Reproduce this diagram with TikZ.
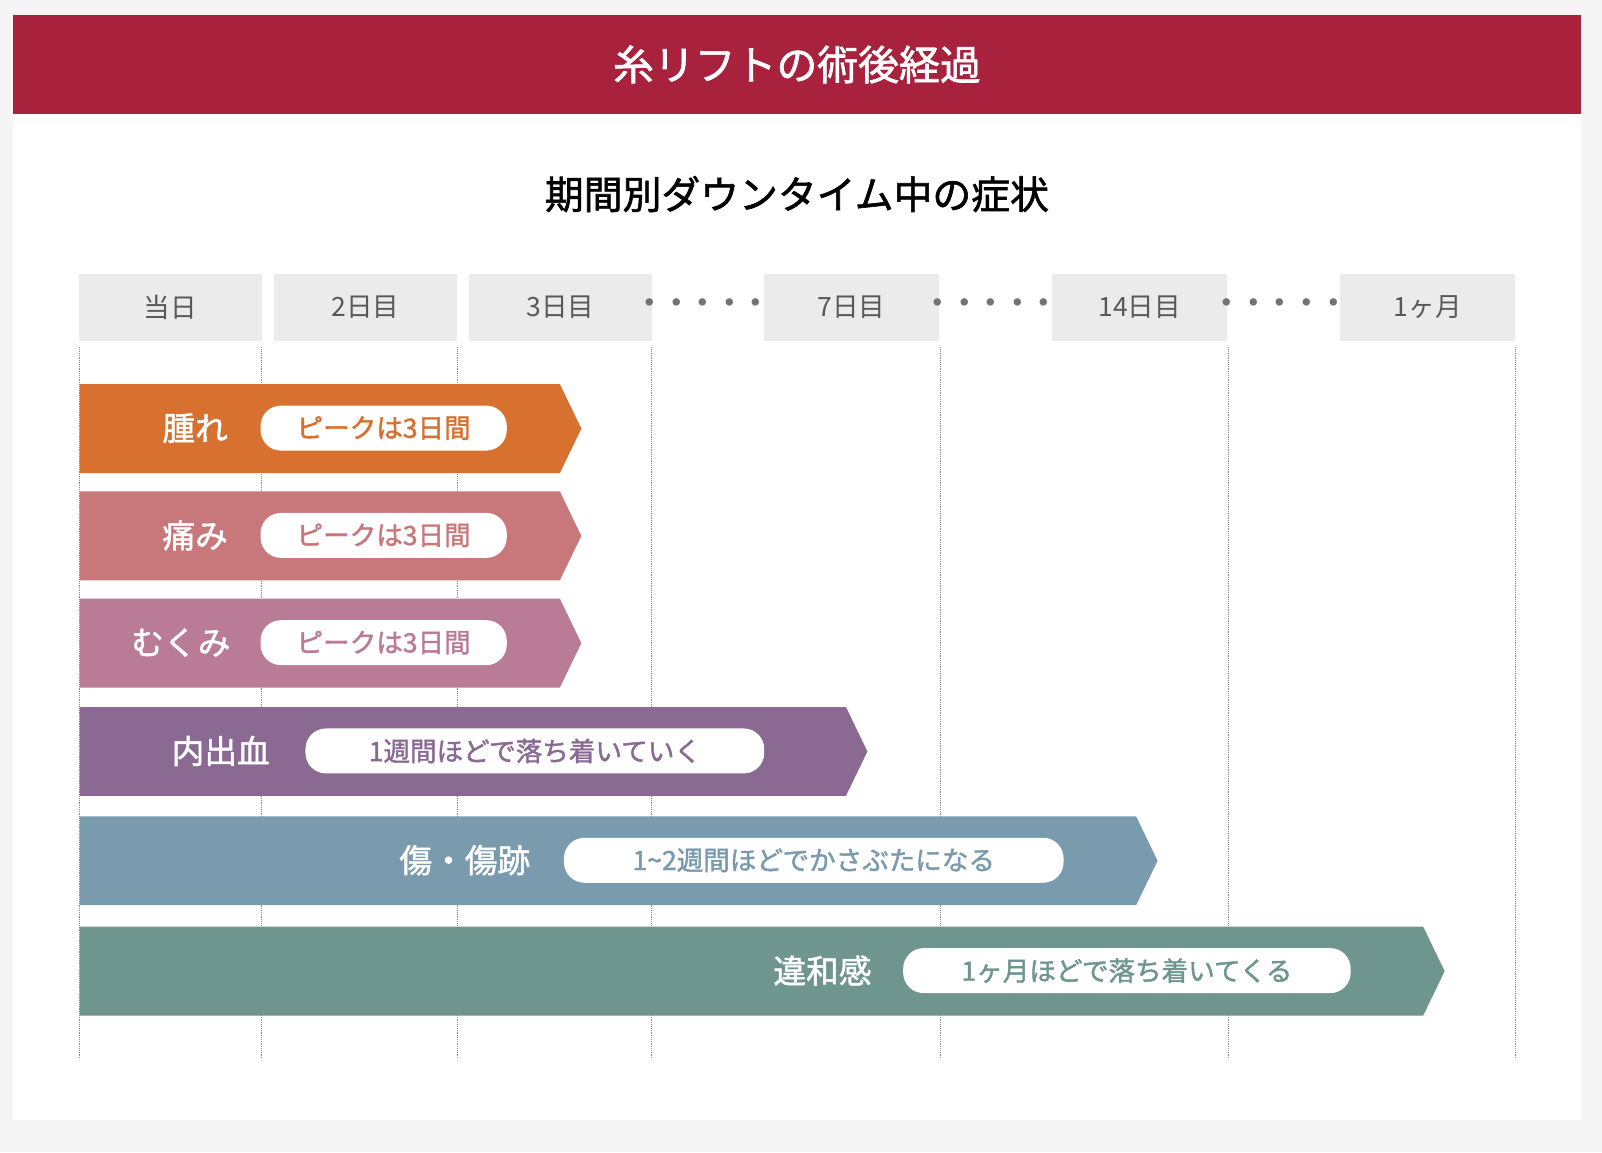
\documentclass[tikz,border=0pt]{standalone}
\usepackage{fontspec}
\setmainfont{Noto Sans CJK JP}
\newfontfamily\jpb[FakeBold=1.5]{Noto Sans CJK JP}
\definecolor{hdr}{HTML}{A8213D}
\definecolor{cA}{HTML}{D8702F}
\definecolor{cB}{HTML}{C8787A}
\definecolor{cC}{HTML}{B97B96}
\definecolor{cD}{HTML}{8A6A92}
\definecolor{cE}{HTML}{7A9AAE}
\definecolor{cF}{HTML}{6E958E}
\definecolor{colg}{HTML}{EBEBEB}
\tikzset{
 colbox/.style={fill=colg,draw=none,minimum height=66pt,inner sep=0pt,font=\fontsize{26}{26}\selectfont,text=black!65},
 dots/.style={font=\fontsize{26}{26}\selectfont\bfseries,text=black!55},
 lab/.style={text=white,font=\jpb\fontsize{32}{32}\selectfont},
 pill/.style={fill=white,rounded corners=20pt,minimum height=44pt,inner sep=0pt,font=\jpb\fontsize{26}{26}\selectfont},
 vline/.style={draw=black!45,densely dotted,line width=0.8pt}
}
\begin{document}
\begin{tikzpicture}[x=1pt,y=-1pt]
\useasboundingbox[fill={black!4}] (0,0) rectangle (1568,1128);
\fill[white] (13,112) rectangle (1547,1096);
\fill[hdr] (13,15) rectangle (1547,112);
\node[text=white,font=\jpb\fontsize{40}{40}\selectfont] (title) at (780,63) {糸リフトの術後経過};
\node[font=\jpb\fontsize{38}{38}\selectfont] (sub) at (780,190) {期間別ダウンタイム中の症状};
\foreach \a/\b/\t/\n in {77/256/当日/h1,268/447/2日目/h2,459/638/3日目/h3,748/919/7日目/h4,1030/1201/14日目/h5,1312/1483/1ヶ月/h6}{
 \node[colbox,minimum width={\b-\a}] (\n) at ({(\a+\b)/2},301) {\t};
}
\foreach \x/\n in {688/d1,970/d2,1253/d3}{\node[dots] (\n) at (\x,299) {・・・・・};}
\foreach \x/\n in {78/v1,256/v2,448/v3,638/v4,920/v5,1202/v6,1483/v7}{
 \coordinate (\n a) at (\x,340); \coordinate (\n b) at (\x,1035);
 \draw[vline] (\n a) -- (\n b);}
\foreach \y/\e/\c/\n in {376/548/cA/b1,481/548/cB/b2,586/548/cC/b3,692/828/cD/b4,799/1112/cE/b5,907/1393/cF/b6}{
 \fill[\c] (78,\y) -- (\e,\y) -- ({\e+21},{\y+43.5}) -- (\e,{\y+87}) -- (78,{\y+87}) -- cycle;
}
\node[lab] (l1) at (191,419) {腫れ};
\node[pill,text=cA,minimum width=241pt] (p1) at (375.5,419) {ピークは3日間};
\node[lab] (l2) at (191,524) {痛み};
\node[pill,text=cB,minimum width=241pt] (p2) at (375.5,524) {ピークは3日間};
\node[lab] (l3) at (177,629) {むくみ};
\node[pill,text=cC,minimum width=241pt] (p3) at (375.5,629) {ピークは3日間};
\node[lab] (l4) at (216,735) {内出血};
\node[pill,text=cD,minimum width=449pt] (p4) at (523.5,735) {1週間ほどで落ち着いていく};
\node[lab] (l5) at (455,842) {傷・傷跡};
\node[pill,text=cE,minimum width=489pt] (p5) at (796.5,842) {1\textasciitilde2週間ほどでかさぶたになる};
\node[lab] (l6) at (805,950) {違和感};
\node[pill,text=cF,minimum width=438pt] (p6) at (1103,950) {1ヶ月ほどで落ち着いてくる};
\end{tikzpicture}
\end{document}
